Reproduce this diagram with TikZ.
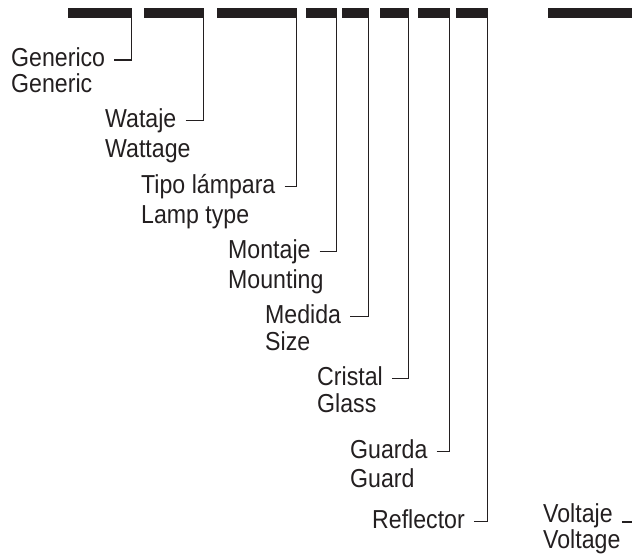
\documentclass[tikz,border=0pt]{standalone}
\usepackage{fontspec}
\setmainfont{Liberation Sans}[FakeStretch=0.89]
\definecolor{ink}{RGB}{35,31,32}
\tikzset{
	bar/.style={fill=ink, inner sep=0pt, minimum height=10pt, anchor=north west},
	lbl/.style={inner sep=0pt, text height=13pt, text depth=0pt, anchor=base west, text=ink, font=\fontsize{26}{30}\selectfont},
	lead/.style={draw=ink, line width=1.9pt, shorten <=9pt}
}

\begin{document}
\begin{tikzpicture}[x=1pt, y=-1pt]
			%%%%% START %%%%%
			\clip (0, 0) rectangle (632, 554);
			
			\node[bar, minimum width=64pt] (b1) at (68, 7.5) {};
			\node[bar, minimum width=60pt] (b2) at (144, 7.5) {};
			\node[bar, minimum width=80pt] (b3) at (217, 7.5) {};
			\node[bar, minimum width=31pt] (b4) at (306, 7.5) {};
			\node[bar, minimum width=27pt] (b5) at (342, 7.5) {};
			\node[bar, minimum width=29pt] (b6) at (380, 7.5) {};
			\node[bar, minimum width=32pt] (b7) at (418, 7.5) {};
			\node[bar, minimum width=32pt] (b8) at (456, 7.5) {};
			\node[bar, minimum width=100pt] (b9) at (548, 7.5) {};
			
			\node[lbl] (gen) at (11, 66.5) {Generico};
			\node[lbl] (genE) at (11, 92) {Generic};
			
			\node[lbl] (wat) at (105, 127) {Wataje};
			\node[lbl] (watE) at (105, 157) {Wattage};
			
			\node[lbl] (tip) at (141, 193) {Tipo lámpara};
			\node[lbl] (tipE) at (141, 223) {Lamp type};
			
			\node[lbl] (mon) at (228, 258) {Montaje};
			\node[lbl] (monE) at (228, 288) {Mounting};
			
			\node[lbl] (med) at (265, 323) {Medida};
			\node[lbl] (medE) at (265, 350) {Size};
			
			\node[lbl] (cri) at (317, 385) {Cristal};
			\node[lbl] (criE) at (317, 412) {Glass};
			
			\node[lbl] (gua) at (350, 458) {Guarda};
			\node[lbl] (guaE) at (350, 487) {Guard};
			
			\node[lbl] (ref) at (372, 528) {Reflector};
			
			\node[lbl] (vol) at (543, 522) {Voltaje};
			\node[lbl] (volE) at (543, 548) {Voltage};
			
			\draw[lead] (gen.east) -| ([xshift=-0.95pt]b1.east);
			\draw[lead] (wat.east) -| ([xshift=-0.95pt]b2.east);
			\draw[lead] (tip.east) -| ([xshift=-0.95pt]b3.east);
			\draw[lead] (mon.east) -| ([xshift=-0.95pt]b4.east);
			\draw[lead] (med.east) -| ([xshift=-0.95pt]b5.east);
			\draw[lead] (cri.east) -| ([xshift=-0.95pt]b6.east);
			\draw[lead] (gua.east) -| ([xshift=-0.95pt]b7.east);
			\draw[lead] (ref.east) -| ([xshift=-0.95pt]b8.east);
			\draw[lead] (vol.south east) -| ([xshift=-0.95pt]b9.east);
			
			%%%%% END %%%%%
\end{tikzpicture}
\end{document}
